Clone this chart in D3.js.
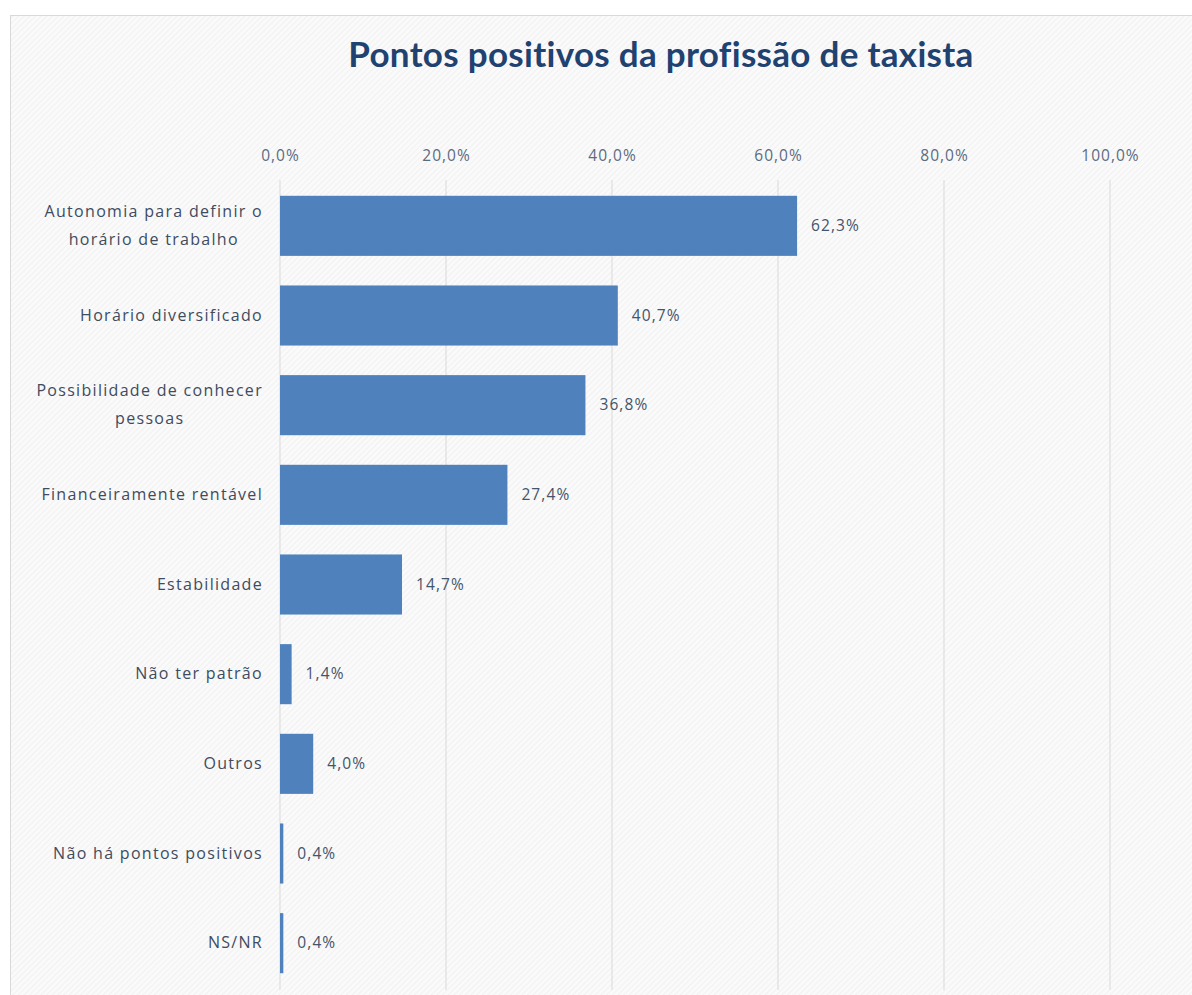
<!DOCTYPE html>
<html><head><meta charset="utf-8">
<script src="https://cdn.jsdelivr.net/npm/d3@7"></script>
<style>body{margin:0;background:#fff;}svg{display:block;}</style>
</head><body>
<script>
const categories = [
  ["Autonomia para definir o","horário de trabalho"],
  ["Horário diversificado"],
  ["Possibilidade de conhecer","pessoas"],
  ["Financeiramente rentável"],
  ["Estabilidade"],
  ["Não ter patrão"],
  ["Outros"],
  ["Não há pontos positivos"],
  ["NS/NR"]
];
const values = [62.3, 40.7, 36.8, 27.4, 14.7, 1.4, 4.0, 0.4, 0.4];
const tickValues = [0, 20, 40, 60, 80, 100];
const title = "Pontos positivos da profissão de taxista";

const W = 1192, H = 995;
const fmt = v => v.toFixed(1).replace(".", ",") + "%";
const svg = d3.select("body").append("svg").attr("width", W).attr("height", H);
const defs = svg.append("defs");
const pat = defs.append("pattern").attr("id","hatch").attr("patternUnits","userSpaceOnUse")
  .attr("width",4).attr("height",4).attr("patternTransform","rotate(45)");
pat.append("rect").attr("width",4).attr("height",4).attr("fill","#fafafa");
pat.append("line").attr("x1",0).attr("y1",0).attr("x2",0).attr("y2",4).attr("stroke","#eeeeee").attr("stroke-width",1.5);

svg.append("rect").attr("x",10.5).attr("y",15.5).attr("width",W).attr("height",H)
  .attr("fill","url(#hatch)").attr("stroke","#d9d9d9");

svg.append("text").attr("x",661).attr("y",67).attr("text-anchor","middle")
  .attr("font-family","Lato, 'Open Sans', sans-serif").attr("font-weight","bold")
  .attr("font-size",35).attr("letter-spacing",0.3).attr("fill","#1f4270").text(title);

const x = d3.scaleLinear().domain([0,100]).range([280,1110]);
const y = d3.scaleBand().domain(d3.range(categories.length)).range([181,988]).paddingInner(0.33).paddingOuter(0.165);

const g = svg.append("g");
g.selectAll("line.grid").data(tickValues).join("line").attr("class","grid")
  .attr("x1",d=>x(d)).attr("x2",d=>x(d)).attr("y1",180).attr("y2",990)
  .attr("stroke","#d9d9d9").attr("stroke-width",1);

const axis = d3.axisTop(x).tickValues(tickValues).tickFormat(d=>fmt(d)).tickSize(0).tickPadding(0);
const ax = svg.append("g").attr("transform","translate(0,161)").call(axis);
ax.select(".domain").remove();
ax.selectAll("text").attr("font-family","'Open Sans', sans-serif").attr("font-size",15.5)
  .attr("letter-spacing",1.0).attr("fill","#5b6b82");

g.selectAll("rect.bar").data(values).join("rect").attr("class","bar")
  .attr("x",x(0)).attr("y",(d,i)=>y(i)).attr("width",d=>x(d)-x(0)).attr("height",y.bandwidth())
  .attr("fill","#4f81bd");

g.selectAll("text.val").data(values).join("text").attr("class","val")
  .attr("x",d=>x(d)+14).attr("y",(d,i)=>y(i)+y.bandwidth()/2+5)
  .attr("font-family","'Open Sans', sans-serif").attr("font-size",15.5).attr("letter-spacing",1.1)
  .attr("fill","#44546a")
  .text(d=>fmt(d));

const labels = g.selectAll("g.lab").data(categories).join("g").attr("class","lab");
labels.each(function(lines,i){
  const sel = d3.select(this);
  const cy = y(i)+y.bandwidth()/2;
  const lh = 28;
  const ts = lines.map((t,k)=>sel.append("text").attr("font-family","'Open Sans', sans-serif")
    .attr("font-size",16).attr("letter-spacing",1.3).attr("fill","#3f4b5e")
    .attr("y", cy + (k-(lines.length-1)/2)*lh + 5).text(t));
  const widths = ts.map(t=>t.node().getComputedTextLength());
  const mw = Math.max(...widths);
  const cx = 263 - mw/2;
  ts.forEach(t=>t.attr("x",cx).attr("text-anchor","middle"));
});
</script>
</body></html>
